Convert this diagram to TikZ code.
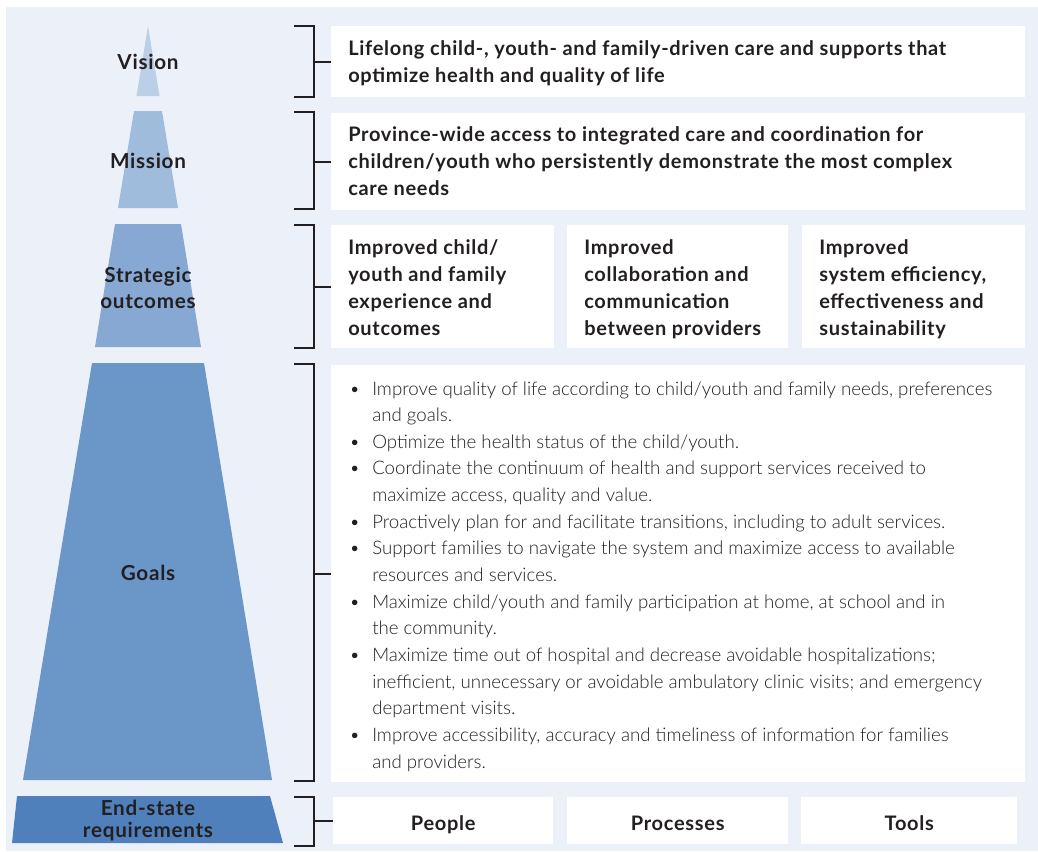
\documentclass[tikz,border=0pt]{standalone}
\usepackage{fontspec}
\setmainfont{Lato}
\newfontfamily\boldf{Lato}[LetterSpace=3.5]
\newfontfamily\lightf{Lato}[UprightFont=* Light]
\definecolor{bgc}{HTML}{ECF1F9}
\definecolor{colV}{HTML}{BBCFE7}
\definecolor{colM}{HTML}{9FBCDD}
\definecolor{colS}{HTML}{86A8D3}
\definecolor{colG}{HTML}{6A96C8}
\definecolor{colE}{HTML}{4F80BC}
\definecolor{txt}{HTML}{231F20}
\begin{document}
\begin{tikzpicture}[x=0.75pt,y=-0.75pt,
  brk/.style={draw=txt, line width=1.5pt},
  wbox/.style={fill=white, draw=none, anchor=north west, inner sep=0pt},
  btext/.style={font=\boldf\bfseries\fontsize{15}{20.1}\selectfont, text=txt, align=left, anchor=base west, inner sep=0pt},
  ctext/.style={font=\boldf\bfseries\fontsize{15}{16}\selectfont, text=txt, anchor=base, inner sep=0pt},
  lbl/.style={font=\boldf\bfseries\fontsize{15.5}{16.5}\selectfont, text=txt, align=center, inner sep=0pt},
  ltext/.style={font=\lightf\fontsize{14}{19.98}\selectfont, text=txt, align=left, anchor=base west, inner sep=0pt}]
\useasboundingbox (0,0) rectangle (1038,851);
\fill[bgc] (6,7) rectangle (1038,851);
% pyramid
\fill[colV] (148,26) -- (159.5,96) -- (136.5,96) -- cycle;
\fill[colM] (134,111) -- (162,111) -- (178,208) -- (118,208) -- cycle;
\fill[colS] (115,224) -- (181,224) -- (201,347) -- (95,347) -- cycle;
\fill[colG] (92,363) -- (204,363) -- (272,780) -- (23,780) -- cycle;
\fill[colE] (17,796) -- (270,796) -- (283,843) -- (12,843) -- cycle;
\node[lbl] (lv) at (148,62) {Vision};
\node[lbl] (lm) at (148,161) {Mission};
\node[lbl] (ls) at (148,288) {Strategic\\[3pt]outcomes};
\node[lbl] (lg) at (148,573) {Goals};
\node[lbl] (le) at (148,821) {End-state\\requirements};
% boxes
\node[wbox, minimum width=520.5pt, minimum height=53.25pt] (vbox) at (331,26) {};
\node[wbox, minimum width=520.5pt, minimum height=72.75pt] (mbox) at (331,113) {};
\node[wbox, minimum width=167.25pt, minimum height=92.25pt] (s1) at (331,225) {};
\node[wbox, minimum width=165.75pt, minimum height=92.25pt] (s2) at (567,225) {};
\node[wbox, minimum width=167.25pt, minimum height=92.25pt] (s3) at (802,225) {};
\node[wbox, minimum width=520.5pt, minimum height=312.75pt] (gbox) at (331,365) {};
\node[wbox, minimum width=165pt, minimum height=35.25pt] (e1) at (333,797) {};
\node[wbox, minimum width=165.75pt, minimum height=35.25pt] (e2) at (567,797) {};
\node[wbox, minimum width=162pt, minimum height=35.25pt] (e3) at (801,797) {};
% texts (anchor base = baseline of last line)
\node[btext] (vt) at (348,82) {Lifelong child-, youth- and family-driven care and supports that\\optimize health and quality of life};
\node[btext] (mt) at (348,195) {Province-wide access to integrated care and coordination for\\children/youth who persistently demonstrate the most complex\\care needs};
\node[btext] (s1t) at (348,335) {Improved child/\\youth and family\\experience and\\outcomes};
\node[btext] (s2t) at (584,335) {Improved\\collaboration and\\communication\\between providers};
\node[btext] (s3t) at (819,335) {Improved\\system efficiency,\\effectiveness and\\sustainability};
\node[ltext] (gt) at (372,768) {\llap{•\hspace{9pt}}Improve quality of life according to child/youth and family needs, preferences\\
and goals.\\
\llap{•\hspace{9pt}}Optimize the health status of the child/youth.\\
\llap{•\hspace{9pt}}Coordinate the continuum of health and support services received to\\
maximize access, quality and value.\\
\llap{•\hspace{9pt}}Proactively plan for and facilitate transitions, including to adult services.\\
\llap{•\hspace{9pt}}Support families to navigate the system and maximize access to available\\
resources and services.\\
\llap{•\hspace{9pt}}Maximize child/youth and family participation at home, at school and in\\
the community.\\
\llap{•\hspace{9pt}}Maximize time out of hospital and decrease avoidable hospitalizations;\\
inefficient, unnecessary or avoidable ambulatory clinic visits; and emergency\\
department visits.\\
\llap{•\hspace{9pt}}Improve accessibility, accuracy and timeliness of information for families\\
and providers.};
\node[ctext] (e1t) at (e1.center |- 0,830) {People};
\node[ctext] (e2t) at (e2.center |- 0,830) {Processes};
\node[ctext] (e3t) at (e3.center |- 0,830) {Tools};
% brackets
\draw[brk] (294,26) -| (314,97) -- (294,97);
\draw[brk] (vbox.west) -- ++(-17,0);
\draw[brk] (294,112) -| (314,209) -- (294,209);
\draw[brk] (mbox.west) -- ++(-17,0);
\draw[brk] (294,225) -| (314,348) -- (294,348);
\draw[brk] (s1.west) -- ++(-17,0);
\draw[brk] (294,364) -| (314,781) -- (294,781);
\draw[brk] (gbox.west) -- ++(-17,0);
\draw[brk] (294,797) -| (314,846) -- (294,846);
\draw[brk] (e1.west) -- ++(-19,0);
\end{tikzpicture}
\end{document}
